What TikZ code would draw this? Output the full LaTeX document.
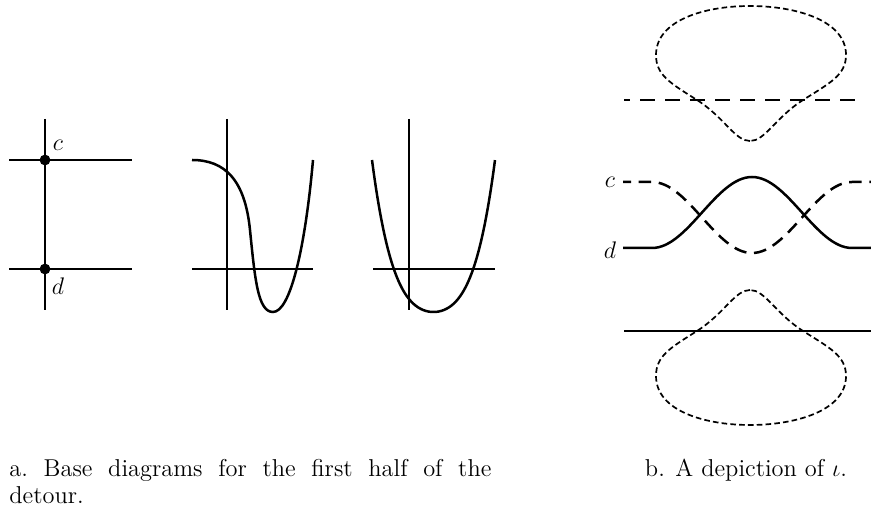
\documentclass[tikz,border=0pt]{standalone}
\begin{document}
\begin{tikzpicture}[x=0.5pt,y=-0.5pt]
\tikzset{
  solidln/.style={line width=1.25pt, line cap=butt},
  loopln/.style={line width=0.85pt, dash pattern=on 2.8pt off 1.6pt},
  middash/.style={line width=1.25pt, dash pattern=on 6.3pt off 3.8pt, dash phase=2.3pt},
  topdash/.style={line width=1.4pt, dash pattern=on 7.5pt off 5pt, dash phase=4.5pt},
  dotn/.style={circle, fill=black, inner sep=0pt, minimum size=5.4pt},
  lbl/.style={font=\fontsize{11.7}{14}\selectfont, inner sep=0pt},
  capn/.style={font=\fontsize{12.2}{13.5}\selectfont, inner sep=0pt}
}
\useasboundingbox (0,0) rectangle (871,512);

% ---- panel a1 ----
\draw[solidln] (45,119) -- (45,310);
\draw[solidln] (9,160) -- (132,160);
\draw[solidln] (9,269) -- (132,269);
\node[dotn] (pc) at (45,160) {};
\node[dotn] (pd) at (45,269) {};
\node[lbl] (lc) at (58,145) {$c$};
\node[lbl] (ld) at (58,286) {$d$};

% ---- panel a2 ----
\draw[solidln] (227,119) -- (227,310);
\draw[solidln] (192,269) -- (313,269);
\draw[solidln] (192,160) .. controls (225,160) and (245,180) .. (250,230)
  .. controls (255,280) and (258,312) .. (273,312)
  .. controls (290,312) and (305,250) .. (313,160);

% ---- panel a3 ----
\draw[solidln] (409,119) -- (409,310);
\draw[solidln] (373,269) -- (495,269);
\draw[solidln] plot[domain=-1:1, samples=80, smooth]
  ({433.5+61.5*\x},{312-68.6*\x*\x-83.4*\x*\x*\x*\x});

% ---- panel b: top ----
\draw[topdash] (624,100) -- (860,100);
\draw[loopln] (750,141) .. controls (735,141) and (725,118) .. (697,100)
  .. controls (670,83) and (656,75) .. (656,55)
  .. controls (656,20) and (705,6) .. (750,6)
  .. controls (795,6) and (846,20) .. (846,55)
  .. controls (846,75) and (830,83) .. (803,100)
  .. controls (775,118) and (765,141) .. (750,141) -- cycle;

% ---- panel b: middle ----
\node[lbl] (mc) at (610,182) {$c$};
\node[lbl] (md) at (610,250) {$d$};
\draw[middash] (623,182) -- (652,182)
  .. controls (688,182) and (716,253) .. (752,253)
  .. controls (788,253) and (816,182) .. (852,182) -- (871,182);
\draw[solidln] (623,248) -- (652,248)
  .. controls (688,248) and (716,177) .. (752,177)
  .. controls (788,177) and (816,248) .. (852,248) -- (871,248);

% ---- panel b: bottom ----
\draw[solidln] (624,331) -- (871,331);
\begin{scope}[shift={(0,431)}, yscale=-1]
\draw[loopln] (750,141) .. controls (735,141) and (725,118) .. (697,100)
  .. controls (670,83) and (656,75) .. (656,55)
  .. controls (656,20) and (705,6) .. (750,6)
  .. controls (795,6) and (846,20) .. (846,55)
  .. controls (846,75) and (830,83) .. (803,100)
  .. controls (775,118) and (765,141) .. (750,141) -- cycle;
\end{scope}

% ---- captions ----
\node[capn, anchor=north west, text width=241pt, align=justify] (capa) at (9,459)
  {\frenchspacing a. Base diagrams for the first half of the\linebreak detour.};
\node[capn, anchor=base] (capb) at (746,476) {b. A depiction of $\iota$.};
\end{tikzpicture}
\end{document}
